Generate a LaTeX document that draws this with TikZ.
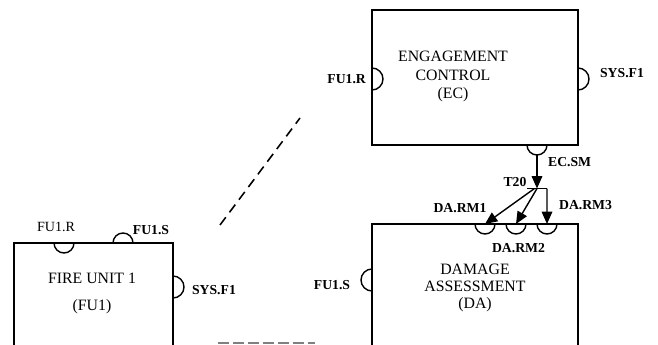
\documentclass[tikz,border=0pt]{standalone}
\usepackage{fontspec}
\setmainfont{Liberation Serif}
\usetikzlibrary{arrows.meta, positioning}

\begin{document}
\begin{tikzpicture}[
      box/.style={rectangle, draw, line width=1.3pt, inner sep=0pt},
      title/.style={align=center, font=\fontsize{9}{10.5}\selectfont},
      lbl/.style={font=\fontsize{7.8}{9}\selectfont\bfseries, inner sep=1pt},
      port/.style={line width=0.8pt},
      arr/.style={line width=0.8pt, -{Triangle[length=7pt,width=6pt]}}
    ]
      \useasboundingbox (0,0) rectangle (13.16,-6.9);
      \clip (0,0) rectangle (13.16,-6.9);

      % the three units
      \node[box, minimum width=4.12cm, minimum height=2.7cm] (ec) at (9.5,-1.55) {};
      \node[box, minimum width=4.12cm, minimum height=2.72cm] (da) at (9.5,-5.84) {};
      \node[box, minimum width=3.18cm, minimum height=2.34cm] (fu) at (1.87,-6.03) {};

      \node[title] at (9.06,-1.53) {ENGAGEMENT\\CONTROL\\(EC)};
      \node[title, font=\fontsize{9}{9.6}\selectfont] at (9.5,-5.76) {DAMAGE\\ASSESSMENT\\(DA)};
      \node[title, font=\fontsize{9}{15.5}\selectfont] at (1.84,-5.87) {FIRE UNIT 1\\(FU1)};

      % ports
      \coordinate (ecr) at (7.44,-1.58);
      \coordinate (ecf) at (11.56,-1.58);
      \coordinate (ecsm) at (10.74,-2.9);
      \coordinate (rm1) at (9.70,-4.48);
      \coordinate (rm2) at (10.32,-4.48);
      \coordinate (rm3) at (10.94,-4.48);
      \coordinate (das) at (7.44,-5.6);
      \coordinate (fur) at (1.28,-4.86);
      \coordinate (fus) at (2.46,-4.86);
      \coordinate (fuf) at (3.46,-5.74);

      \draw[port] ([yshift=-2.2mm]ecr) arc (-90:90:2.2mm);
      \draw[port] ([yshift=-2.2mm]ecf) arc (-90:90:2.2mm);
      \draw[port] ([xshift=-2mm]ecsm) arc (180:360:2mm);
      \foreach \p in {rm1, rm2, rm3}
        \draw[port] ([xshift=-2mm]\p) arc (180:360:2mm);
      \draw[port] ([yshift=2.2mm]das) arc (90:270:2.2mm);
      \draw[port] ([xshift=-2mm]fur) arc (180:360:2mm);
      \draw[port] ([xshift=-2mm]fus) arc (180:0:2mm);
      \draw[port] ([yshift=-2.2mm]fuf) arc (-90:90:2.2mm);

      % port labels
      \node[lbl, left=0.08cm of ecr] {FU1.R};
      \node[lbl, anchor=west] at (11.96,-1.46) {SYS.F1};
      \node[lbl, anchor=west] at (10.92,-3.24) {EC.SM};
      \node[lbl] at (10.3,-3.64) {T20};
      \node[lbl] at (9.2,-4.16) {DA.RM1};
      \node[lbl] at (10.37,-4.96) {DA.RM2};
      \node[lbl, anchor=west] at (11.14,-4.1) {DA.RM3};
      \node[lbl] at (6.64,-5.7) {FU1.S};
      \node[lbl, font=\fontsize{8}{9}\selectfont] at (1.12,-4.54) {FU1.R};
      \node[lbl] at (3.02,-4.6) {FU1.S};
      \node[lbl] at (4.28,-5.8) {SYS.F1};

      % T20 junction
      \coordinate (t20) at (10.74,-3.77);
      \draw[arr] ([yshift=-2mm]ecsm) -- (t20);
      \draw[line width=0.8pt] ([xshift=-2mm]t20) -- ([xshift=2mm]t20);
      \draw[arr] ([xshift=2mm]t20) -- (rm3);
      \draw[arr] (t20) -- (rm2);
      \draw[arr] ([xshift=-0.5mm]t20) -- (rm1);

      % dashed links
      \coordinate (d1) at (4.4,-4.5);
      \coordinate (d2) at (6.0,-2.36);
      \draw[line width=0.9pt, dash pattern=on 5.5pt off 3.5pt] (d1) -- (d2);
      \coordinate (g1) at (4.36,-6.86);
      \coordinate (g2) at (6.3,-6.86);
      \draw[gray, line width=1.1pt, dash pattern=on 6.5pt off 2pt] (g1) -- (g2);
    \end{tikzpicture}
\end{document}
